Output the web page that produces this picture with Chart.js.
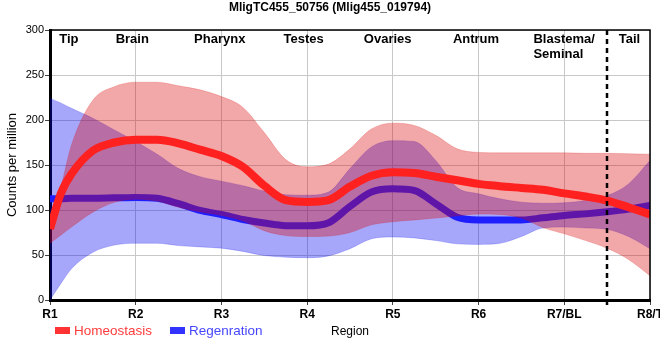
<!DOCTYPE html>
<html><head><meta charset="utf-8">
<script src="https://cdn.jsdelivr.net/npm/chart.js@4/dist/chart.umd.min.js"></script>
<style>html,body{margin:0;padding:0;overflow:hidden;background:#fff}#wrap{width:680px;height:360px}</style>
</head><body><div id="wrap"><canvas id="c" width="680" height="360"></canvas></div>
<script>
const chartTitle = 'MligTC455_50756 (Mlig455_019794)';
const yAxisTitle = 'Counts per million';
const xAxisTitle = 'Region';
const categories = ['R1','R2','R3','R4','R5','R6','R7/BL','R8/T'];
const regionNames = ['Tip','Brain','Pharynx','Testes','Ovaries','Antrum','Blastema/\nSeminal','Tail'];
const regionAt = [0.22, 0.96, 1.98, 2.96, 3.94, 4.97, 5.64, 6.76];
const regionAlign = ['center','center','center','center','center','center','left','center'];
const dividerAt = 6.5;
const seriesNames = ['Homeostasis','Regenration'];

const xs = [0,0.125,0.25,0.5,0.75,1,1.25,1.5,1.75,2,2.25,2.5,2.75,3,3.25,3.5,3.75,4,4.25,4.5,4.75,5,5.25,5.5,5.75,6,6.25,6.5,6.75,7];
const homeoMean = [79,118,140,166,175,178,178,174,167,160,148,127,111,109,111,126,138,142,141,137,133,129,126.5,124.5,122.5,118.5,115,110.5,103,95];
const homeoUpper = [92,125,172,222,237,242,242,238,233.5,226,214,186,156,148,151,168,190,196.5,194,183,168,164,163.5,163.5,163.5,163.5,163,163,162.5,162];
const homeoLower = [63,72,81,97.6,108.5,112,110,103,98,94,88,77,71.6,70.5,71,75,83.5,87,89,91,93.5,95.5,95,91,80.5,73.5,66,57.5,45,27];
const regenMean = [112.5,112.5,113,113,113.5,114,113,107,99.5,95,89.5,85.5,82.6,82.4,85.8,104,120,123.5,121.7,107,92,89,89,89,91.3,94,95.7,98,101,105];
const regenUpper = [224,219,213,202,189,176,162,146,137,132,127,121,117,116.5,120,146,170,177,176,155,125,118,112.4,108.7,107.5,108,110.6,116,129,155];
const regenLower = [0,18,34.6,53,61,63,63,60.5,59,57.6,54,49.4,47.6,47,49,57,68,70,69,66,62.4,61.8,63,70.5,80,81,80,78.5,70.5,57];

const pts = arr => arr.map((v,i) => ({x: xs[i], y: v}));
const FONT = "'Liberation Sans', Arial, sans-serif";

const RED_LINE = 'rgb(255,32,32)';
const BLUE_LINE = 'rgb(30,30,255)';
const PINK_FILL = 'rgba(218,5,5,0.35)';
const BLUE_FILL = 'rgba(0,0,240,0.35)';

const decor = {
  id: 'decor',
  afterDatasetsDraw(chart) {
    const {ctx, chartArea: a, scales: {x}} = chart;
    ctx.save();
    // divider
    const dx = Math.round(x.getPixelForValue(dividerAt));
    ctx.strokeStyle = '#000'; ctx.lineWidth = 2.5; ctx.setLineDash([5,4]);
    ctx.beginPath(); ctx.moveTo(dx, a.top); ctx.lineTo(dx, a.bottom + 5); ctx.stroke();
    ctx.setLineDash([]);
    // top & right frame
    ctx.lineWidth = 1.5;
    ctx.beginPath(); ctx.moveTo(a.left, a.top); ctx.lineTo(a.right, a.top); ctx.lineTo(a.right, a.bottom); ctx.stroke();
    // region labels
    ctx.fillStyle = '#000'; ctx.font = 'bold 13px ' + FONT; ctx.textBaseline = 'alphabetic';
    regionNames.forEach((n, i) => {
      ctx.textAlign = regionAlign[i];
      const px = x.getPixelForValue(regionAt[i]);
      n.split('\n').forEach((line, j) => ctx.fillText(line, px, a.top + 13 + j * 15));
    });
    ctx.restore();
  },
  afterDraw(chart) {
    const {ctx, chartArea: a} = chart;
    ctx.save();
    ctx.fillStyle = '#000'; ctx.font = 'bold 12px ' + FONT;
    ctx.textAlign = 'center'; ctx.textBaseline = 'middle';
    ctx.fillText(chartTitle, 330, 8);
    // legend
    const items = [{t: seriesNames[0], c: 'rgb(255,51,51)', tc: 'rgb(255,60,60)', x: a.left + 5},
                   {t: seriesNames[1], c: 'rgb(51,51,255)', tc: 'rgb(70,70,255)', x: a.left + 120}];
    ctx.font = '13.5px ' + FONT; ctx.textAlign = 'left';
    items.forEach(it => {
      ctx.fillStyle = it.c; ctx.fillRect(it.x, 327, 15, 7);
      ctx.fillStyle = it.tc; ctx.fillText(it.t, it.x + 19, 331);
    });
    ctx.restore();
  }
};

new Chart(document.getElementById('c'), {
  type: 'line',
  data: {
    datasets: [
      {label: seriesNames[0], data: pts(homeoMean), borderColor: RED_LINE, borderWidth: 8, pointRadius: 0, fill: false, cubicInterpolationMode: 'monotone', borderCapStyle: 'butt'},
      {label: seriesNames[0] + ' upper', data: pts(homeoUpper), borderColor: 'rgba(218,5,5,0.2)', borderWidth: 1, pointRadius: 0, backgroundColor: PINK_FILL, fill: '+1', cubicInterpolationMode: 'monotone'},
      {label: seriesNames[0] + ' lower', data: pts(homeoLower), borderColor: 'rgba(218,5,5,0.2)', borderWidth: 1, pointRadius: 0, fill: false, cubicInterpolationMode: 'monotone'},
      {label: seriesNames[1], data: pts(regenMean), borderColor: BLUE_LINE, borderWidth: 7, pointRadius: 0, fill: false, cubicInterpolationMode: 'monotone', borderCapStyle: 'butt'},
      {label: seriesNames[1] + ' upper', data: pts(regenUpper), borderColor: 'rgba(0,0,240,0.2)', borderWidth: 1, pointRadius: 0, backgroundColor: BLUE_FILL, fill: '+1', cubicInterpolationMode: 'monotone'},
      {label: seriesNames[1] + ' lower', data: pts(regenLower), borderColor: 'rgba(0,0,240,0.2)', borderWidth: 1, pointRadius: 0, fill: false, cubicInterpolationMode: 'monotone'}
    ]
  },
  options: {
    responsive: false, animation: false, devicePixelRatio: 1,
    layout: {padding: {top: 30, right: 30, left: 0, bottom: 0}},
    plugins: {legend: {display: false}, tooltip: {enabled: false}, title: {display: false}},
    scales: {
      x: {
        type: 'linear', min: 0, max: 7,
        afterFit: s => { s.height = 60; },
        ticks: {stepSize: 1, autoSkip: false, maxRotation: 0, padding: 2, color: '#000',
                font: {family: FONT, size: 12, weight: 'bold'},
                callback: v => categories[v] ?? ''},
        grid: {color: 'rgb(200,200,200)', lineWidth: 1, tickLength: 5, tickColor: '#444'},
        border: {color: '#000', width: 3},
        title: {display: true, text: xAxisTitle, color: '#000', font: {family: FONT, size: 12}, padding: {top: 0, bottom: 21}}
      },
      y: {
        min: 0, max: 300,
        afterFit: s => { s.width = 50; },
        ticks: {stepSize: 50, padding: 1, color: '#000', font: {family: FONT, size: 11}},
        grid: {color: 'rgb(200,200,200)', lineWidth: 1, tickLength: 5, tickColor: '#444'},
        border: {color: '#000', width: 3},
        title: {display: true, text: yAxisTitle, color: '#000', font: {family: FONT, size: 13}, padding: {top: 5, bottom: 0}}
      }
    }
  },
  plugins: [decor]
});
</script></body></html>
